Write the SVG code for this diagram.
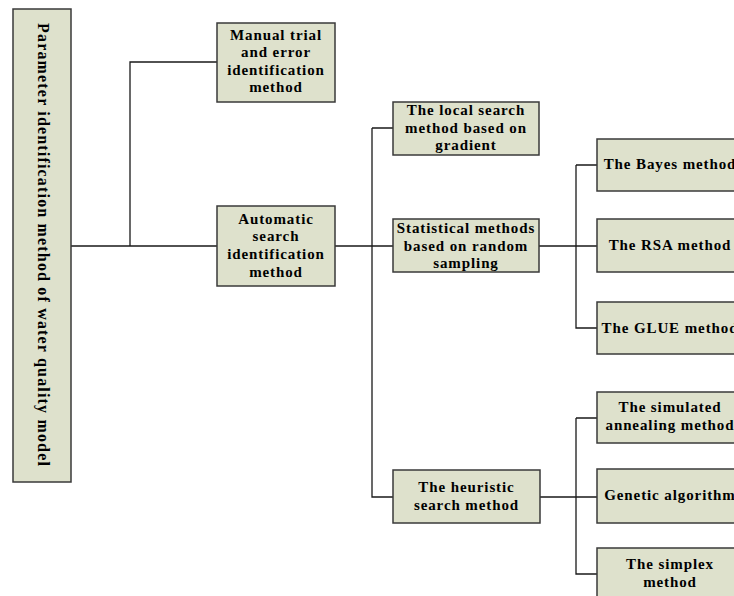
<svg xmlns="http://www.w3.org/2000/svg" width="734" height="596" viewBox="0 0 734 596">
<style>
.box{fill:#DEE1CC;stroke:#3a3a3a;stroke-width:1.5}
.t{font-family:"Liberation Serif","Times New Roman",serif;font-weight:bold;font-size:15px;letter-spacing:0.9px;fill:#000;text-anchor:middle}
.root{font-size:16px;letter-spacing:1.1px}
.c{fill:none;stroke:#1a1a1a;stroke-width:1.3}
</style>
<rect width="734" height="596" fill="#fff"/>
<g id="connectors">
<path class="c" d="M71 246H217M130 246V62H217"/>
<path class="c" d="M335 246H393M372 128H393M372 128V497H393"/>
<path class="c" d="M539 246H597M576 165H597M576 165V328H597"/>
<path class="c" d="M540 497H597M576 418H597M576 418V574H597"/>
</g>
<g id="root">
<rect class="box" x="13" y="9" width="58" height="473"/>
<text class="t root" transform="translate(37.5,245) rotate(90)" x="0" y="0" textLength="444" lengthAdjust="spacing">Parameter identification method of water quality model</text>
</g>
<g id="manual">
<rect class="box" x="217" y="23" width="118" height="79"/>
<text class="t" x="276" y="39.5">Manual trial</text>
<text class="t" x="276" y="57">and error</text>
<text class="t" x="276" y="74.5">identification</text>
<text class="t" x="276" y="92">method</text>
</g>
<g id="automatic">
<rect class="box" x="217" y="206" width="118" height="80"/>
<text class="t" x="276" y="223.5">Automatic</text>
<text class="t" x="276" y="241">search</text>
<text class="t" x="276" y="259">identification</text>
<text class="t" x="276" y="276.5">method</text>
</g>
<g id="local">
<rect class="box" x="393" y="102" width="146" height="53"/>
<text class="t" x="466" y="115">The local search</text>
<text class="t" x="466" y="133">method based on</text>
<text class="t" x="466" y="150">gradient</text>
</g>
<g id="statistical">
<rect class="box" x="393" y="219" width="146" height="53"/>
<text class="t" x="466" y="233">Statistical methods</text>
<text class="t" x="466" y="250.5">based on random</text>
<text class="t" x="466" y="267.5">sampling</text>
</g>
<g id="heuristic">
<rect class="box" x="393" y="470" width="147" height="53"/>
<text class="t" x="466.5" y="491.5">The heuristic</text>
<text class="t" x="466.5" y="509.5">search method</text>
</g>
<g id="bayes">
<rect class="box" x="597" y="139" width="146" height="52"/>
<text class="t" x="670" y="169">The Bayes method</text>
</g>
<g id="rsa">
<rect class="box" x="597" y="219" width="146" height="53"/>
<text class="t" x="670" y="250">The RSA method</text>
</g>
<g id="glue">
<rect class="box" x="597" y="302" width="146" height="52"/>
<text class="t" x="670" y="333">The GLUE method</text>
</g>
<g id="simulated">
<rect class="box" x="597" y="392" width="146" height="51"/>
<text class="t" x="670" y="411.5">The simulated</text>
<text class="t" x="670" y="430">annealing method</text>
</g>
<g id="genetic">
<rect class="box" x="597" y="469" width="146" height="54"/>
<text class="t" x="670" y="500">Genetic algorithm</text>
</g>
<g id="simplex">
<rect class="box" x="597" y="548" width="146" height="60"/>
<text class="t" x="670" y="568.5">The simplex</text>
<text class="t" x="670" y="586.5">method</text>
</g>
</svg>
